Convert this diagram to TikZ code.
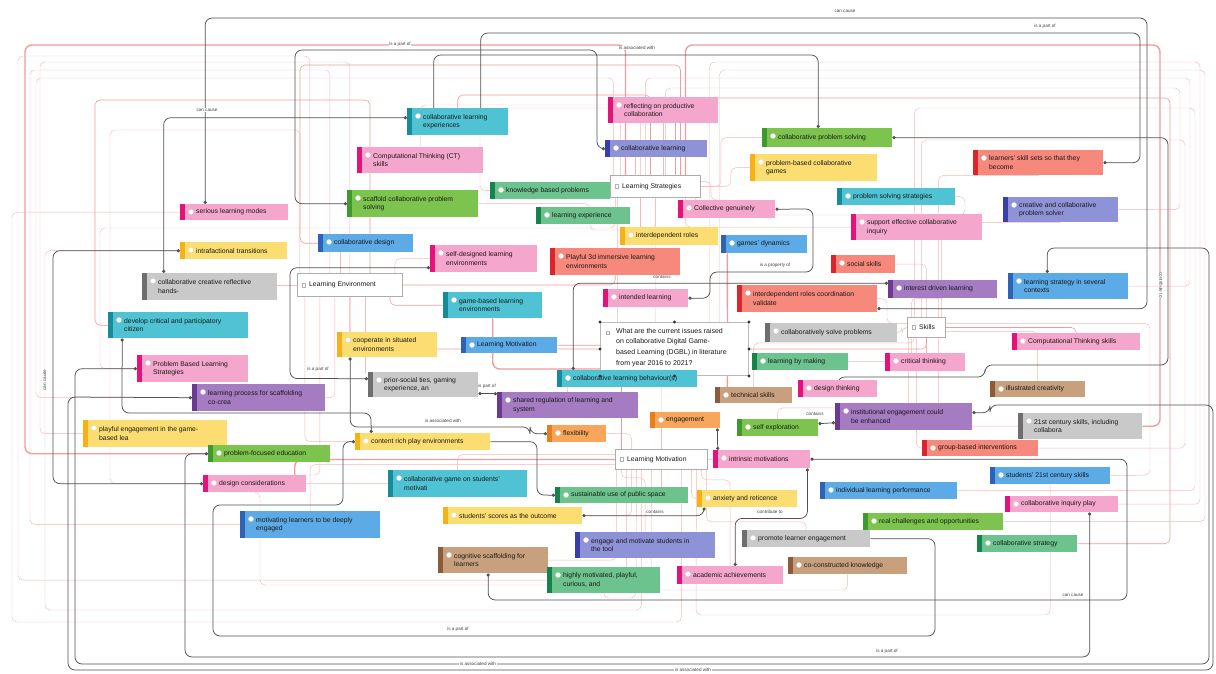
\documentclass[tikz,border=0pt]{standalone}
\usepackage{fontspec}
\setmainfont{Liberation Sans}
\usetikzlibrary{arrows.meta}
\pgfdeclarelayer{bg}\pgfdeclarelayer{mid}
\pgfsetlayers{bg,mid,main}
\definecolor{cyanF}{HTML}{4FC3D3}\definecolor{cyanS}{HTML}{168C9B}
\definecolor{pinkF}{HTML}{F5A6CC}\definecolor{pinkS}{HTML}{E3137B}
\definecolor{greenF}{HTML}{7CC44E}\definecolor{greenS}{HTML}{3E9A2E}
\definecolor{mgrF}{HTML}{6DC38D}\definecolor{mgrS}{HTML}{16834C}
\definecolor{bpF}{HTML}{8E92D6}\definecolor{bpS}{HTML}{3A3FA8}
\definecolor{yelF}{HTML}{FBDD72}\definecolor{yelS}{HTML}{F4B216}
\definecolor{salF}{HTML}{F6897B}\definecolor{salS}{HTML}{D9252B}
\definecolor{blueF}{HTML}{5CAAE6}\definecolor{blueS}{HTML}{2E62B5}
\definecolor{purF}{HTML}{A57BC2}\definecolor{purS}{HTML}{6B3990}
\definecolor{grayF}{HTML}{C9C9C9}\definecolor{grayS}{HTML}{6E6E6E}
\definecolor{brF}{HTML}{C8A07E}\definecolor{brS}{HTML}{8B5B3B}
\definecolor{oraF}{HTML}{F7A65C}\definecolor{oraS}{HTML}{EA7E1E}
\definecolor{pinkA}{HTML}{F7B8B8}\definecolor{pinkB}{HTML}{F19C9C}
\definecolor{darkL}{HTML}{505050}
\newcommand\cnode[8]{%
  \pgfmathsetmacro\cnw{#4-#2}\pgfmathsetmacro\cnh{#5-#3}%
  \node[cbox, fill=#6, minimum width=\cnw pt, minimum height=\cnh pt, anchor=north west] (#1) at (#2,#3) {};
  \fill[#7] (#1.north west) rectangle ([xshift=5pt]#1.south west);
  \filldraw[fill=white, draw=black!15, line width=0.2pt] ([xshift=11pt,yshift=-8pt]#1.north west) circle (2.6pt);
  \node[ctext, anchor=west] (#1t) at ([xshift=16pt]#1.west) {#8};
}
\newcommand\hnode[6]{%
  \pgfmathsetmacro\cnw{#4-#2}\pgfmathsetmacro\cnh{#5-#3}%
  \node[hbox, minimum width=\cnw pt, minimum height=\cnh pt, anchor=north west] (#1) at (#2,#3) {};
  \draw[gray!60, fill=white, line width=0.4pt] ([xshift=5pt,yshift=-1.8pt]#1.west) rectangle ++(3.6pt,3.6pt);
  \node[ctext, anchor=west] (#1t) at ([xshift=12pt]#1.west) {#6};
}
\begin{document}
\begin{tikzpicture}[x=1pt,y=-1pt,
  cbox/.style={inner sep=0pt, draw=none},
  ctext/.style={font=\fontsize{6.8}{8.6}\selectfont, text=black!90, align=left, inner sep=0pt},
  hbox/.style={inner sep=0pt, draw=gray!65, line width=0.9pt, fill=white},
  pk/.style={draw=pinkA, line width=0.45pt, rounded corners=5pt},
  pkb/.style={draw=pinkB, line width=0.6pt, rounded corners=5pt},
  pkt/.style={draw=pinkB, line width=1.4pt, rounded corners=7pt},
  dk/.style={draw=darkL, line width=0.75pt, rounded corners=7pt, >={Circle[length=3.2pt]}, ->},
  dkb/.style={dk, <->},
  lbl/.style={font=\fontsize{4.6}{5}\selectfont, text=black!75, fill=white, inner sep=0.6pt}]
\useasboundingbox (0,0) rectangle (1216,674);
\begin{pgfonlayer}{bg}
\fill[white] (0,0) rectangle (1216,674);
\end{pgfonlayer}

% ---------------- nodes ----------------
\cnode{ncle}{407}{108}{508}{135}{cyanF}{cyanS}{collaborative learning\\experiences}
\cnode{nrefl}{608}{97}{718}{123}{pinkF}{pinkS}{reflecting on productive\\collaboration}
\cnode{ncps}{762}{128}{892}{147}{greenF}{greenS}{collaborative problem solving}
\cnode{nct}{357}{147}{483}{173}{pinkF}{pinkS}{Computational Thinking (CT)\\skills}
\cnode{ncl}{605}{140}{707}{157}{bpF}{bpS}{collaborative learning}
\cnode{npbcg}{750}{154}{877}{181}{yelF}{yelS}{problem-based collaborative\\games}
\cnode{nlss}{973}{150}{1103}{175}{salF}{salS}{learners' skill sets so that they\\become}
\cnode{nkbp}{490}{182}{610}{199}{mgrF}{mgrS}{knowledge based problems}
\hnode{ls}{610}{175}{700}{197}{Learning Strategies}
\cnode{npss}{837}{188}{955}{205}{cyanF}{cyanS}{problem solving strategies}
\cnode{nscaf}{347}{190}{478}{217}{greenF}{greenS}{scaffold collaborative problem\\solving}
\cnode{nslm}{180}{204}{288}{220}{pinkF}{pinkS}{serious learning modes}
\cnode{nlexp}{536}{207}{630}{224}{mgrF}{mgrS}{learning experience}
\cnode{ncg}{678}{200}{775}{218}{pinkF}{pinkS}{Collective genuinely}
\cnode{nsec}{851}{214}{982}{240}{pinkF}{pinkS}{support effective collaborative\\inquiry}
\cnode{nccps}{1003}{197}{1118}{222}{bpF}{bpS}{creative and collaborative\\problem solver}
\cnode{nir}{620}{227}{718}{245}{yelF}{yelS}{interdependent roles}
\cnode{ngd}{721}{235}{807}{253}{blueF}{blueS}{games' dynamics}
\cnode{ncd}{318}{234}{413}{252}{blueF}{blueS}{collaborative design}
\cnode{nsdl}{430}{245}{537}{272}{pinkF}{pinkS}{self-designed learning\\environments}
\cnode{nit}{180}{242}{287}{259}{yelF}{yelS}{intrafactional transitions}
\cnode{np3d}{550}{248}{680}{275}{salF}{salS}{Playful 3d immersive learning\\environments}
\cnode{nss}{831}{255}{895}{273}{salF}{salS}{social skills}
\cnode{nccr}{142}{273}{277}{300}{grayF}{grayS}{collaborative creative reflective\\hands-}
\hnode{le}{297}{273}{402}{296}{Learning Environment}
\cnode{nidl}{888}{280}{997}{298}{purF}{purS}{interest driven learning}
\cnode{nlsc}{1008}{273}{1128}{299}{blueF}{blueS}{learning strategy in several\\contexts}
\cnode{nil}{603}{289}{688}{307}{pinkF}{pinkS}{intended learning}
\cnode{nirc}{737}{285}{877}{312}{salF}{salS}{interdependent roles coordination\\validate}
\cnode{ngbl}{443}{292}{542}{318}{cyanF}{cyanS}{game-based learning\\environments}
\cnode{ndcp}{108}{312}{248}{338}{cyanF}{cyanS}{develop critical and participatory\\citizen}
\node[hbox, draw=gray!55, line width=1pt, minimum width=148pt, minimum height=53pt, anchor=north west] (q) at (600,322) {};
\draw[gray!60, fill=white, line width=0.4pt] (606,331) rectangle ++(3.6pt,-3.6pt);
\node[ctext, font=\fontsize{7}{10.6}\selectfont, anchor=north west] (qt) at (616,328) {What are the current issues raised\\on collaborative Digital Game-\\based Learning (DGBL) in literature\\from year 2016 to 2021?};
\cnode{ncsp}{765}{323}{897}{342}{grayF}{grayS}{collaboratively solve problems}
\hnode{sk}{907}{317}{945}{337}{Skills}
\cnode{nctk}{1012}{333}{1140}{350}{pinkF}{pinkS}{Computational Thinking skills}
\cnode{ncsi}{337}{332}{437}{357}{yelF}{yelS}{cooperate in situated\\environments}
\cnode{nlmb}{461}{337}{557}{353}{blueF}{blueS}{Learning Motivation}
\cnode{npbls}{137}{355}{248}{382}{pinkF}{pinkS}{Problem Based Learning\\Strategies}
\cnode{nlbm}{752}{353}{848}{370}{mgrF}{mgrS}{learning by making}
\cnode{nctt}{885}{353}{965}{371}{pinkF}{pinkS}{critical thinking}
\cnode{nclb}{557}{370}{697}{387}{cyanF}{cyanS}{collaborative learning behaviour(s)}
\foreach \a in {north west,north,north east,west,east,south west,south,south east}
  \fill[black!80] (q.\a) circle (1.6pt);
\cnode{npst}{368}{372}{478}{397}{grayF}{grayS}{prior-social ties, gaming\\experience, an}
\cnode{ndt}{798}{380}{877}{397}{pinkF}{pinkS}{design thinking}
\cnode{nic}{990}{381}{1085}{397}{brF}{brS}{illustrated creativity}
\cnode{nlps}{192}{384}{325}{411}{purF}{purS}{learning process for scaffolding\\co-crea}
\cnode{nsr}{497}{392}{638}{418}{purF}{purS}{shared regulation of learning and\\system}
\cnode{nts}{715}{387}{792}{403}{brF}{brS}{technical skills}
\cnode{nie}{835}{403}{972}{430}{purF}{purS}{institutional engagement could\\be enhanced}
\cnode{n21}{1018}{413}{1142}{439}{grayF}{grayS}{21st century skills, including\\collabora}
\cnode{npe}{83}{420}{227}{447}{yelF}{yelS}{playful engagement in the game-\\based lea}
\cnode{neng}{650}{412}{720}{428}{oraF}{oraS}{engagement}
\cnode{nflex}{547}{425}{606}{442}{oraF}{oraS}{flexibility}
\cnode{nse}{737}{419}{818}{436}{greenF}{greenS}{self exploration}
\cnode{ncrp}{355}{433}{490}{450}{yelF}{yelS}{content rich play environments}
\cnode{ngbi}{922}{440}{1038}{456}{salF}{salS}{group-based interventions}
\cnode{npfe}{208}{445}{330}{462}{greenF}{greenS}{problem-focused education}
\hnode{lm}{615}{449}{707}{469}{Learning Motivation}
\cnode{nim}{713}{450}{810}{468}{pinkF}{pinkS}{intrinsic motivations}
\cnode{ns21}{990}{467}{1110}{484}{blueF}{blueS}{students' 21st century skills}
\cnode{ndc}{203}{475}{306}{492}{pinkF}{pinkS}{design considerations}
\cnode{ncgm}{388}{470}{527}{497}{cyanF}{cyanS}{collaborative game on students'\\motivati}
\cnode{nsus}{555}{487}{688}{503}{mgrF}{mgrS}{sustainable use of public space}
\cnode{nanx}{697}{490}{797}{507}{yelF}{yelS}{anxiety and reticence}
\cnode{nilp}{820}{482}{957}{499}{blueF}{blueS}{individual learning performance}
\cnode{ncip}{1005}{496}{1118}{512}{pinkF}{pinkS}{collaborative inquiry play}
\cnode{nml}{240}{511}{380}{538}{blueF}{blueS}{motivating learners to be deeply\\engaged}
\cnode{nsso}{443}{507}{582}{524}{yelF}{yelS}{students' scores as the outcome}
\cnode{nrco}{863}{513}{1003}{530}{greenF}{greenS}{real challenges and opportunities}
\cnode{nemt}{575}{532}{715}{558}{bpF}{bpS}{engage and motivate students in\\the tool}
\cnode{nple}{742}{530}{870}{547}{grayF}{grayS}{promote learner engagement}
\cnode{ncst}{977}{535}{1077}{552}{mgrF}{mgrS}{collaborative strategy}
\cnode{ncsf}{438}{547}{548}{573}{brF}{brS}{cognitive scaffolding for\\learners}
\cnode{ncck}{788}{557}{907}{574}{brF}{brS}{co-constructed knowledge}
\cnode{nhm}{547}{567}{660}{593}{mgrF}{mgrS}{highly motivated, playful,\\curious, and}
\cnode{naa}{677}{566}{783}{584}{pinkF}{pinkS}{academic achievements}

% ---------------- pink links ----------------
\begin{pgfonlayer}{bg}
\draw[pkt] ([xshift=-30pt]ls.north) |- (25,45) |- (npfe.west);
\draw[pkt] ([xshift=30pt]ls.north) |- (1160,45) |- (n21.east);
\draw[pkt] ([yshift=-20pt]q.west) -| (ngbl.south);
\draw[pkt] ([xshift=53pt]q.north) -- ([xshift=-37pt]ngd.south);
\draw[pkt] ([xshift=53pt]q.south) -- ([xshift=-26.5pt]nts.north);
\draw[pkt] (lm.west) -| ([xshift=40pt]ndc.north);
\draw[pk] (le.north) |- (40,62) |- (npe.west);
\draw[pk] ([xshift=-20pt]le.north) |- (30,70) |- (nml.west);
\draw[pkb] ([xshift=20pt]le.north) |- (95,100) |- (ndcp.west);
\draw[pk] (le.west) -- (le.west -| nccr.east);
\draw[pk] (le.south) |- (ncsi.west);
\draw[pkb] ([xshift=40pt]le.south) |- (ngbl.west);
\draw[pk] ([xshift=45pt]le.north) |- (nsdl.west);
\draw[pkb] (le.east) -| (np3d.south);
\draw[pk] ([xshift=-45pt]le.south) |- (ncrp.west);
\draw[pk] ([xshift=-10pt]le.north) -- ++(0,-21);
\draw[pk] (ls.south) |- (590,230) |- (nscaf.east);
\draw[pk] ([xshift=-35pt]ls.north) |- (480,108) |- (nkbp.west);
\draw[pk] ([xshift=-10pt]ls.north) |- (1190,78) |- (nlsc.east);
\draw[pk] ([xshift=10pt]ls.north) |- (1180,88) |- (nccps.east);
\draw[pkb] ([xshift=20pt]ls.north) |- (1170,98) |- (ncst.east);
\draw[pk] (ls.east) -- ++(30,0) |- (npbcg.west);
\draw[pk] ([xshift=-20pt]ls.north) -- ++(0,-18);
\draw[pk] ([xshift=-40pt]ls.south) |- (100,228) |- (npbls.west);
\draw[pk] ([xshift=40pt]ls.south) |- (965,215) |- (npss.east);
\draw[pk] ([xshift=30pt]ls.south) |- (nsec.west);
\draw[pk] (sk.south) -- (sk.south |- nctt.north);
\draw[pkb] (sk.east) -| (nctk.north);
\draw[pk] ([yshift=-4pt]sk.east) -| (nic.north);
\draw[pk] (sk.north) |- (nss.east);
\draw[pk] (sk.west) -- ++(-5,0) |- (ncsp.east);
\draw[pk] ([xshift=-12pt]sk.south) -- ++(0,5) -| (nts.north);
\draw[pk] ([xshift=12pt]sk.south) |- (n21.west);
\draw[pk] ([xshift=12pt]sk.north) |- (nlss.south);
\draw[pk] ([yshift=4pt]sk.east) -| (1150,475) -- (ns21.east);
\draw[pk] ([xshift=-10pt]sk.south) |- (ngbi.west);
\draw[pk] (lm.south) -- (lm.south |- nsus.north);
\draw[pk] ([xshift=-30pt]lm.south) |- (nsso.east);
\draw[pk] ([xshift=30pt]lm.south) |- (nanx.west);
\draw[pk] ([yshift=5pt]lm.west) -| (ncgm.north);
\draw[pk] ([yshift=-5pt]lm.west) -| (nml.north);
\draw[pk] ([xshift=-40pt]lm.south) -- ++(0,8) -| (nemt.north);
\draw[pk] ([xshift=-45pt]lm.south) |- (ncsf.east);
\draw[pk] (lm.east) -- (nim.west);
\draw[pk] (lm.north) -- (lm.north |- neng.south);
\draw[pkb] ([xshift=-40pt]lm.north) |- (nlmb.east);
\draw[pk] ([xshift=40pt]lm.south) -- ++(0,10) -| (naa.north);
\draw[pk] ([xshift=45pt]lm.south) -- ++(0,52) -| (nple.north);
\draw[pk] ([xshift=-19pt]q.north) -- (ls.south);
\draw[pkb] (q.west) -| (le.south);
\draw[pkb] (q.east) -| (sk.south);
\draw[pk] ([xshift=-13pt]q.south) -- (lm.north);
\draw[pk] ([xshift=-20pt]lm.south) |- (45,610) |- (nit.west);
\draw[pk] ([xshift=20pt]lm.south) |- (12,622) |- (nslm.west);
\draw[pk] ([xshift=35pt]q.north) |- (1200,62) |- (ncip.east);
\draw[pk] ([xshift=45pt]q.north) |- (1205,70) |- (nrco.east);
\draw[pk] ([xshift=-12pt]sk.north) |- (1195,108) |- (nilp.east);
\draw[pk] ([xshift=-15pt]ls.north) -- ++(0,-70) -| (nct.north);
\draw[pkb] ([xshift=-5pt]ls.north) -- ++(0,-80) -| (ncle.north);
\draw[pk] ([xshift=8pt]ls.north) -- ++(0,-52);
\draw[pk] (ls.east) -- ++(20,0) |- (ncps.west);
\draw[pk] ([yshift=5pt]ls.east) -- ++(10,0) |- (ncg.north);
\draw[pk] ([xshift=-15pt]ls.south) -- ++(0,30);
\draw[pk] ([xshift=-42pt]ls.north) |- (36,78) |- (nlps.west);
\draw[pk] ([xshift=-30pt]le.south) |- (ndc.north);
\draw[pk] ([xshift=-10pt]lm.south) -- (651,590) -| (ncck.south);
\draw[pk] ([xshift=-25pt]lm.south) -- (636,598) -| (nhm.south);
\draw[pk] ([xshift=-15pt]le.south) |- (nlps.east);
\draw[pk] ([xshift=15pt]le.south) -- ++(0,76);
\draw[pk] ([xshift=-38pt]ls.south) -- ++(0,180) -| (nsr.north);
\draw[pk] ([xshift=-15pt]sk.south) |- (nlbm.east);
\draw[pk] ([xshift=-18pt]sk.south) -- ++(0,70) -| (nse.north);
\draw[pk] ([xshift=-30pt]lm.north) |- (nflex.east);
\draw[pk] ([xshift=15pt]sk.north) |- (nccps.south);
\draw[pk] ([xshift=-15pt]sk.north) |- (nidl.south);
\draw[pk] ([yshift=4pt]sk.west) -- ++(-20,0) |- (nirc.east);
\draw[pk] ([xshift=-40pt]le.north) |- (18,56) |- (nhm.west);
\draw[pk] ([xshift=-50pt]le.north) |- (110,130) |- (ncgm.west);
\draw[pkb] ([xshift=25pt]ls.north) |- (300,65) |- (ncd.west);
\draw[pk] ([xshift=-35pt]lm.south) |- (260,585) |- (ndc.south);
\draw[pk] ([xshift=35pt]lm.south) -- (696,615) -| (ns21.south);
\draw[pk] ([xshift=-5pt]sk.north) |- (1185,140) |- (ngbi.east);
\end{pgfonlayer}

% ---------------- dark links ----------------
\begin{pgfonlayer}{mid}
\draw[dkb] ([yshift=-10pt]nirc.east) -| (1147,18) -| ([xshift=-29pt]nslm.north);
\draw[dk] ([xshift=23pt]ncle.north) |- (1140,33) |- (nlss.east);
\draw[dk] ([xshift=-24pt]ncle.north) -- ++(0,-53) -| ([xshift=-9pt]ncps.north);
\draw[dkb] (nscaf.west) -- ++(-52,0) |- (597,50) |- (ncl.west);
\draw[dkb] ([xshift=-46pt]nccr.north) |- ([yshift=4pt]ncle.west);
\draw[dkb] (nit.west) -| (53,470) |- (ndc.west);
\draw[dkb] ([yshift=-9pt]nsdl.west) -| (290,378.5) -- ([yshift=6pt]npst.west);
\draw[dkb] ([yshift=-9pt]npst.east) -- ([yshift=11.5pt]nsr.west);
\draw[dkb] ([xshift=-37pt]ncsi.south) |- (530,427) |- (nflex.west);
\draw[dkb] (nil.east) -| (710,272) -| (813,209) -- (ncg.east);
\draw[dkb] ([xshift=-54pt]nclb.north) |- ([yshift=6pt]nidl.west);
\draw[dkb] ([yshift=4pt]nse.east) -- ([yshift=-6pt]nie.west);
\draw[dkb] (nsso.east) -| ([xshift=7pt]nanx.south west);
\draw[dkb] ([xshift=-3pt]nim.south east) -- ++(0,50) -| ([xshift=5pt]naa.north);
\draw[dk] (nple.east) -| (935,636) -| (213,505) -| (343,441.5) -- (ncrp.west);
\draw[dkb] ([xshift=-5pt]ncsf.south) |- (1127,600) |- (nim.east);
\draw[dkb] ([xshift=28pt]ncip.south) |- (185,657) |- (npfe.west);
\draw[dkb] ([xshift=-21pt]nlsc.north) |- (1209,248) |- (75,664) |- (npbls.west);
\draw[dkb] ([yshift=4pt]nie.east) -| (990,405) -| (1213,670) -| (68,397) -- (nlps.west);
\draw[dkb] ([xshift=-56pt]ndcp.south) -- (122,413) -- (371,413) -- ([xshift=-51.5pt]ncrp.north);
\draw[dk] (ncrp.east) -| (537,495) -- (nsus.west);
\draw[dkb] (ncps.east) -| (1168,365) -| (985,377) -| (ndt.north);
\draw[dkb] ([xshift=-3pt]neng.south east) -- ([xshift=-44pt]nim.north);
\end{pgfonlayer}

% ---------------- labels ----------------
\node[lbl, fill=none] (l1) at (845,11) {can cause};
\node[lbl] (l2) at (1045,26) {is a part of};
\node[lbl] (l3) at (400,44) {is a part of};
\node[lbl] (l4) at (637,48) {is associated with};
\node[lbl] (l5) at (207,110) {can cause};
\node[lbl, rotate=90] (l6) at (45,380) {can cause};
\node[lbl] (l7) at (318,369) {is a part of};
\node[lbl] (l8) at (487,386) {is part of};
\node[lbl] (l9) at (443,421) {is associated with};
\node[lbl] (l10) at (775,265) {is a property of};
\node[lbl] (l11) at (662,277) {contains};
\node[lbl] (l12) at (815,414) {contains};
\node[lbl] (l13) at (655,512) {contains};
\node[lbl] (l14) at (770,512) {contribute to};
\node[lbl, rotate=-90] (l15) at (1161,285) {contribute to};
\node[lbl] (l16) at (1073,595) {can cause};
\node[lbl] (l17) at (458,629) {is a part of};
\node[lbl] (l18) at (887,651) {is a part of};
\node[lbl] (l19) at (478,664) {is associated with};
\node[lbl] (l20) at (693,670) {is associated with};
\end{tikzpicture}
\end{document}
